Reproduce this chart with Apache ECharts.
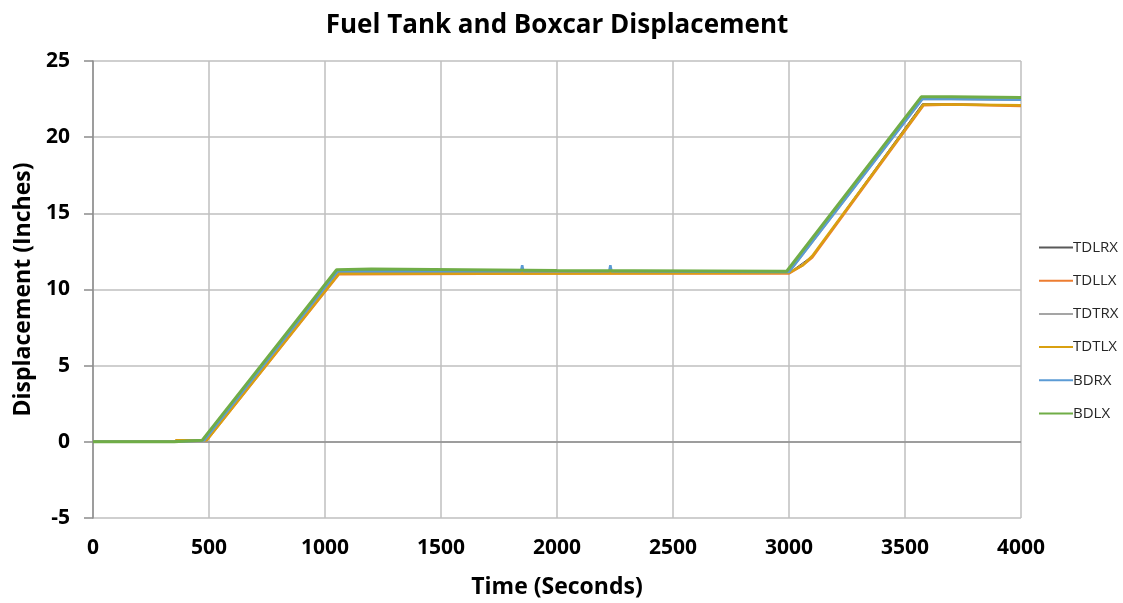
<!DOCTYPE html>
<html><head><meta charset="utf-8">
<script src="https://cdn.jsdelivr.net/npm/echarts@6/dist/echarts.min.js"></script>
<style>html,body{margin:0;padding:0;background:#fff}#c{width:1123px;height:603px}</style>
</head><body><div id="c"></div>
<script>
// Series names
const seriesNames = ['TDLRX','TDLLX','TDTRX','TDTLX','BDRX','BDLX'];
// Time (s) / displacement (in) pairs
const tTDLRX = [0, 350, 480, 1055, 2000, 3000, 3100, 3575, 3700, 4000];
const vTDLRX = [0, 0, 0.1, 11.1, 11.1, 11.1, 12.2, 22.2, 22.2, 22.1];
const tTDLLX = [0, 350, 360, 490, 1060, 2000, 3000, 3060, 3100, 3580, 3700, 4000];
const vTDLLX = [0, 0, 0.1, 0.1, 11.0, 11.05, 11.05, 11.6, 12.1, 22.1, 22.15, 22.05];
const tTDTRX = [0, 350, 480, 1055, 2000, 3000, 3575, 3700, 4000];
const vTDTRX = [0, 0, 0.1, 11.25, 11.2, 11.15, 22.5, 22.5, 22.45];
const tTDTLX = [0, 350, 360, 490, 1060, 2000, 3000, 3060, 3100, 3580, 3700, 4000];
const vTDTLX = [0, 0, 0.1, 0.1, 11.05, 11.05, 11.1, 11.6, 12.2, 22.15, 22.15, 22.1];
const tBDRX = [0, 350, 480, 1055, 1845, 1850, 1855, 2225, 2230, 2235, 3000, 3575, 3700, 4000];
const vBDRX = [0, 0, 0.1, 11.2, 11.2, 11.6, 11.2, 11.2, 11.6, 11.2, 11.15, 22.5, 22.5, 22.45];
const tBDLX = [0, 350, 470, 1050, 1200, 2000, 2990, 3570, 3700, 4000];
const vBDLX = [0, 0, 0.1, 11.3, 11.35, 11.25, 11.2, 22.65, 22.65, 22.6];
// Axis ticks
const xTicks = [0, 500, 1000, 1500, 2000, 2500, 3000, 3500, 4000];
const yTicks = [-5, 0, 5, 10, 15, 20, 25];

const times = [tTDLRX, tTDLLX, tTDTRX, tTDTLX, tBDRX, tBDLX];
const vals = [vTDLRX, vTDLLX, vTDTRX, vTDTLX, vBDRX, vBDLX];
const colors = ['#595959', '#ED7D31', '#A5A5A5', '#D9A010', '#5B9BD5', '#70AD47'];
const widths = [1, 2.5, 2.5, 2.5, 2.5, 3];

const series = seriesNames.map((n, i) => ({
  name: n, type: 'line', showSymbol: false, symbol: 'none',
  data: times[i].map((t, j) => [t, vals[i][j]]),
  lineStyle: {color: colors[i], width: widths[i]},
  itemStyle: {color: colors[i]},
  z: 3 + i, animation: false
}));
series[0].markLine = {
  silent: true, symbol: 'none', label: {show: false},
  lineStyle: {color: '#8c8c8c', width: 1.5, type: 'solid'},
  data: [{yAxis: 0}], animation: false
};

const font = '"Open Sans", "Liberation Sans", sans-serif';
const chart = echarts.init(document.getElementById('c'));
chart.setOption({
  backgroundColor: '#fff',
  animation: false,
  title: {text: 'Fuel Tank and Boxcar Displacement', left: 552, top: 8, textAlign: 'center',
    textStyle: {fontFamily: font, fontWeight: 'bold', fontSize: 26, color: '#000'}},
  grid: {left: 93, right: 102, top: 61, bottom: 85, containLabel: false, outerBoundsMode: 'none'},
  legend: {orient: 'vertical', left: 1034, top: 235, itemWidth: 34, itemHeight: 14, itemGap: 18.2,
    icon: 'path://M0,6 L34,6 L34,8 L0,8 Z',
    data: seriesNames,
    textStyle: {fontFamily: font, fontSize: 15, color: '#262626', padding: [0,0,0,-5]}},
  xAxis: {type: 'value', min: xTicks[0], max: xTicks[xTicks.length-1], interval: xTicks[1]-xTicks[0],
    name: 'Time (Seconds)', nameLocation: 'middle', nameGap: 58,
    nameTextStyle: {fontFamily: font, fontWeight: 'bold', fontSize: 23, color: '#000'},
    axisLine: {onZero: false, show: false},
    axisTick: {show: false},
    axisLabel: {fontFamily: font, fontWeight: 'bold', fontSize: 21, color: '#000', margin: 20,
      formatter: v => String(v)},
    splitLine: {show: true, lineStyle: {color: '#bfbfbf', width: 1.5}}},
  yAxis: {type: 'value', min: yTicks[0], max: yTicks[yTicks.length-1], interval: yTicks[1]-yTicks[0],
    name: 'Displacement (Inches)', nameLocation: 'middle', nameGap: 58,
    nameTextStyle: {fontFamily: font, fontWeight: 'bold', fontSize: 23, color: '#000'},
    axisLine: {show: true, lineStyle: {color: '#8c8c8c', width: 1.5}},
    axisTick: {show: true, length: 9, lineStyle: {color: '#8c8c8c', width: 1.5}},
    axisLabel: {fontFamily: font, fontWeight: 'bold', fontSize: 21, color: '#000', margin: 23},
    splitLine: {show: true, lineStyle: {color: '#bfbfbf', width: 1.5}}},
  series: series
});
</script></body></html>
